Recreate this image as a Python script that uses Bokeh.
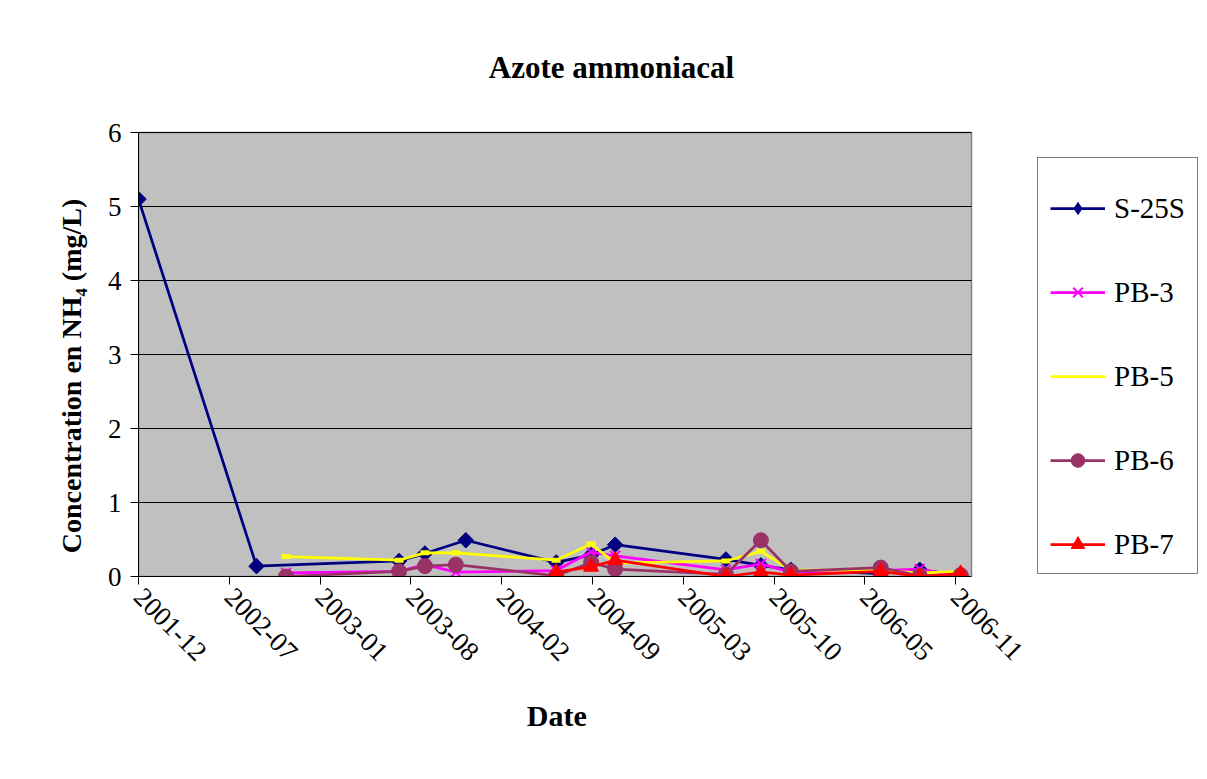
import pandas as pd
from math import pi
from bokeh.plotting import figure
from bokeh.models import Range1d, FixedTicker, Legend, LegendItem, Label
from bokeh.embed import file_html
from bokeh.resources import INLINE

# ---------------- data ----------------
axis_start = "2001-12-14"
axis_end = "2006-12-23"
tick_step_days = 200
tick_labels = ["2001-12", "2002-07", "2003-01", "2003-08", "2004-02",
               "2004-09", "2005-03", "2005-10", "2006-05", "2006-11"]
y_ticks = [0, 1, 2, 3, 4, 5, 6]

s25s_dates = ["2001-12-14", "2002-08-31", "2003-07-11", "2003-09-06", "2003-12-05",
              "2004-06-21", "2004-09-06", "2004-10-29", "2005-06-30", "2005-09-15",
              "2005-11-20", "2006-06-06", "2006-08-31", "2006-11-29"]
s25s_vals = [5.1, 0.14, 0.21, 0.31, 0.49, 0.19, 0.29, 0.43, 0.23, 0.15, 0.09, 0.04, 0.09, 0.02]

pb_dates = ["2002-11-04", "2003-07-11", "2003-09-06", "2003-11-13", "2004-06-21",
            "2004-09-06", "2004-10-29", "2005-06-30", "2005-09-15", "2005-11-20",
            "2006-06-06", "2006-08-31", "2006-11-29"]
pb3_vals = [0.05, 0.07, 0.16, 0.06, 0.08, 0.33, 0.28, 0.09, 0.17, 0.06, 0.08, 0.10, 0.0]
pb5_vals = [0.27, 0.22, 0.32, 0.32, 0.22, 0.44, 0.18, 0.21, 0.34, 0.09, 0.08, 0.05, 0.07]
pb6_vals = [0.0, 0.07, 0.14, 0.16, 0.01, 0.19, 0.10, 0.03, 0.49, 0.07, 0.12, 0.01, 0.02]

pb7_dates = ["2004-06-21", "2004-09-06", "2004-10-29", "2005-06-30", "2005-09-15",
             "2005-11-20", "2006-06-06", "2006-08-31", "2006-11-29"]
pb7_vals = [0.06, 0.13, 0.22, 0.0, 0.06, 0.02, 0.07, 0.0, 0.04]

# ---------------- layout constants (pixels) ----------------
W, H = 1207, 779
LEFT, BOTTOM = 138, 203          # margins holding the axes
AREA_W, AREA_H = 833, 444        # grey plotting area inside the (larger) frame
FRAME_W, FRAME_H = W - LEFT, H - BOTTOM
NBSP = "\u00A0"

FONT = "Liberation Serif"
t0 = pd.Timestamp(axis_start)
t1 = pd.Timestamp(axis_end)
to_ms = lambda t: int(t.value // 10**6)
x0_ms, x1_ms = to_ms(t0), to_ms(t1)
xr_end = x0_ms + (x1_ms - x0_ms) * FRAME_W / AREA_W
y_max = y_ticks[-1]
yr_end = y_max * FRAME_H / AREA_H
tick_ms = [to_ms(t0 + pd.Timedelta(days=tick_step_days * k)) for k in range(len(tick_labels))]

p = figure(width=W, height=H, x_axis_type="datetime",
           x_range=Range1d(x0_ms, xr_end), y_range=Range1d(0, yr_end),
           output_backend="svg", toolbar_location=None, title_location=None,
           min_border_left=LEFT, min_border_right=0, min_border_top=0, min_border_bottom=BOTTOM,
           background_fill_color="white", border_fill_color="white",
           outline_line_color=None)
p.xgrid.visible = False
p.ygrid.visible = False

# grey plot area and horizontal grid lines
p.quad(left=[t0], right=[t1], bottom=[0], top=[y_max],
       fill_color="#C0C0C0", line_color="#808080", line_width=1.5)
p.segment(x0=[t0] * (len(y_ticks) - 1), x1=[t1] * (len(y_ticks) - 1),
          y0=y_ticks[1:], y1=y_ticks[1:], line_color="black", line_width=1)

xax = p.below[0]
yax = p.left[0]
for ax in (xax, yax):
    ax.axis_line_color = "black"
    ax.axis_line_width = 1
    ax.major_tick_line_color = "black"
    ax.major_tick_out = 8
    ax.major_tick_in = 0
    ax.minor_tick_out = 0
    ax.minor_tick_in = 0
    ax.major_label_text_font = FONT
    ax.major_label_text_font_size = "27px"
    ax.major_label_text_color = "black"
    ax.axis_label_text_font = FONT
    ax.axis_label_text_font_style = "bold"
    ax.axis_label_text_color = "black"

# axis labels are centred on the whole frame; trailing no-break spaces move the
# visible words back to the middle of the grey area
yax.bounds = (0, y_max)
yax.ticker = FixedTicker(ticks=y_ticks)
yax.major_label_standoff = 9
yax.axis_label = "Concentration en NH\u2084 (mg/L)" + NBSP * 25
yax.axis_label_text_font_size = "28px"
yax.axis_label_standoff = 18

xax.bounds = (x0_ms, x1_ms)
xax.ticker = FixedTicker(ticks=tick_ms)
xax.major_label_overrides = {m: lab for m, lab in zip(tick_ms, tick_labels)}
xax.major_label_orientation = -pi / 4
xax.major_label_standoff = 8
xax.axis_label = "Date" + NBSP * 31
xax.axis_label_text_font_size = "30px"
xax.axis_label_standoff = 27

# ---------------- series ----------------
LW = 2.75
d_s = pd.to_datetime(s25s_dates)
d_pb = pd.to_datetime(pb_dates)
d_7 = pd.to_datetime(pb7_dates)

l1 = p.line(d_s, s25s_vals, line_color="#000080", line_width=LW)
m1 = p.scatter(d_s, s25s_vals, marker="square", angle=pi / 4, size=11,
               fill_color="#000080", line_color="#000080")
# zero-size twin of the S-25S markers: invisible in the plot, gives the legend its diamond
leg1 = p.scatter(d_s, s25s_vals, marker="diamond", size=0,
                 fill_color="#000080", line_color=None)

l3 = p.line(d_pb, pb3_vals, line_color="#FF00FF", line_width=LW)
m3 = p.scatter(d_pb, pb3_vals, marker="x", size=14, line_color="#FF00FF", line_width=2)

l5 = p.line(d_pb, pb5_vals, line_color="#FFFF00", line_width=LW)
m5 = p.scatter(d_pb, pb5_vals, marker="dash", size=9, line_color="#FFFF00", line_width=5)

l6 = p.line(d_pb, pb6_vals, line_color="#993366", line_width=LW)
m6 = p.scatter(d_pb, pb6_vals, marker="circle", size=15, fill_color="#993366", line_color="#993366")

l7 = p.line(d_7, pb7_vals, line_color="#FF0000", line_width=LW)
m7 = p.scatter(d_7, pb7_vals, marker="triangle", size=15, fill_color="#FF0000", line_color="#FF0000")

# ---------------- legend ----------------
legend = Legend(items=[
    LegendItem(label="S-25S", renderers=[l1, leg1]),
    LegendItem(label="PB-3", renderers=[l3, m3]),
    LegendItem(label="PB-5", renderers=[l5]),
    LegendItem(label="PB-6", renderers=[l6, m6]),
    LegendItem(label="PB-7", renderers=[l7, m7]),
], location=(1037 - LEFT, FRAME_H - 574))
legend.title = " "
legend.title_text_font_size = "10px"
legend.title_standoff = 10
legend.padding = 12
legend.spacing = 50
legend.glyph_height = 34
legend.label_height = 34
legend.glyph_width = 55
legend.label_standoff = 9
legend.label_text_font = FONT
legend.label_text_font_size = "29px"
legend.label_text_color = "black"
legend.border_line_color = "black"
legend.border_line_width = 1
legend.background_fill_color = "white"
legend.background_fill_alpha = 1
p.add_layout(legend, "center")

# ---------------- title ----------------
title = Label(x=611 - LEFT, y=FRAME_H - 67, x_units="screen", y_units="screen",
              text="Azote ammoniacal", text_align="center", text_baseline="alphabetic",
              text_font=FONT, text_font_style="bold", text_font_size="31px", text_color="black")
p.add_layout(title)

open("out.html", "w").write(file_html(p, INLINE))
